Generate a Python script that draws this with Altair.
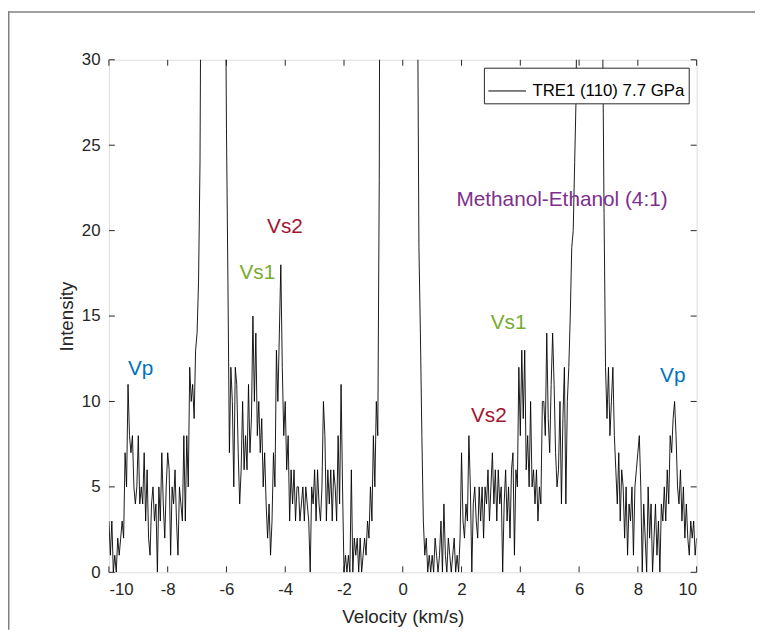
import altair as alt
import pandas as pd

# ---------------- data ----------------
x_start = -10.0
x_step = 0.05
intensity = (
    [3, 1, 3, 0, 1, 0, 2, 1, 2, 3, 2, 7, 5, 11, 8, 7, 8, 5, 4, 5]            # -10.00 .. -9.05
    + [8, 4, 5, 4, 7, 3, 6, 2, 1, 4, 5, 3, 4, 0, 5, 3, 7, 4, 2, 5]          # -9.00 .. -8.05
    + [7, 6, 1, 5, 4, 6, 3, 1, 5, 4, 3, 8, 3, 8, 5, 12, 10, 11, 9, 13]      # -8.00 .. -7.05
    + [14, 17, 24, 42, 65, 95, 130, 165, 195, 215, 225, 220, 200, 170, 135, 100, 75, 58, 48, 40]
    + [26, 17, 7, 12, 10, 5, 12, 11, 7, 4, 6, 10, 6, 8, 6, 11, 7, 9, 15, 10]
    + [14, 8, 10, 7, 9, 5, 7, 4, 2, 4, 1, 3, 7, 5, 13, 10, 14, 18, 12, 8]
    + [10, 6, 8, 3, 6, 4, 6, 3, 5, 5, 3, 4, 5, 3, 5, 4, 3, 0, 5, 4]
    + [6, 3, 6, 4, 3, 5, 10, 8, 3, 6, 4, 6, 3, 6, 5, 3, 8, 4, 11, 5]
    + [0, 1, 0, 1, 0, 6, 0, 2, 1, 2, 0, 2, 0, 1, 2, 1, 3, 2, 5, 3]
    + [8, 5, 10, 8, 23, 60, 120, 200, 300, 450, 600, 750, 900, 1000, 1100, 1150, 1200, 1200, 1150, 1100]
    + [1000, 900, 750, 600, 450, 300, 180, 110, 70, 45, 35, 19, 14, 8, 3, 1, 2, 0, 1, 0]
    + [1, 0, 2, 1, 0, 1, 3, 0, 4, 1, 0, 2, 1, 0, 1, 2, 0, 1, 0, 2]
    + [7, 3, 2, 4, 3, 8, 5, 0, 4, 5, 3, 2, 5, 3, 5, 2, 5, 4, 6, 3]
    + [5, 7, 4, 6, 3, 6, 4, 5, 0, 4, 6, 3, 5, 2, 6, 7, 1, 6, 5, 12]
    + [8, 13, 9, 13, 6, 8, 5, 10, 5, 6, 4, 6, 3, 5, 4, 10, 10, 8, 14, 9]
    + [7, 11, 14, 11, 7, 5, 6, 10, 4, 9, 12, 4, 10, 12, 15, 19, 20, 24, 28, 42]
    + [65, 95, 130, 165, 195, 215, 225, 225, 210, 185, 155, 120, 90, 70, 55, 42, 32, 21, 12, 9]
    + [12, 8, 10, 12, 8, 6, 4, 7, 3, 6, 5, 2, 5, 1, 4, 3, 5, 1, 5, 6]
    + [7, 8, 5, 0, 4, 2, 0, 5, 2, 4, 0, 2, 4, 1, 3, 0, 4, 3, 5, 3]
    + [6, 4, 8, 7, 9, 10, 8, 5, 4, 6, 3, 5, 2, 4, 2, 1, 3, 2, 3, 1, 2]
)
velocity = [round(x_start + i * x_step, 2) for i in range(len(intensity))]
series_name = "TRE1 (110) 7.7 GPa"

x_ticks = [-10, -8, -6, -4, -2, 0, 2, 4, 6, 8, 10]
y_ticks = [0, 5, 10, 15, 20, 25, 30]

ann_text = ["Vp", "Vs1", "Vs2", "Methanol-Ethanol (4:1)", "Vs1", "Vs2", "Vp"]
ann_x = [-8.92, -4.95, -4.01, 5.42, 3.60, 2.93, 9.19]
ann_y = [11.9, 17.5, 20.2, 21.8, 14.6, 9.15, 11.46]
ann_color = ["#0072BD", "#77AC30", "#A2142F", "#7E2F8E", "#77AC30", "#A2142F", "#0072BD"]

# ---------------- chart ----------------
W, H = 594, 518
FONT = "Liberation Sans"
AX = "#262626"

df = pd.DataFrame({"v": velocity, "I": intensity, "series": series_name})
xs = alt.Scale(domain=[-10, 10], nice=False, zero=False)
ys = alt.Scale(domain=[0, 30], nice=False)

line = alt.Chart(df).mark_line(strokeWidth=0.9, clip=True).encode(
    x=alt.X("v:Q", scale=xs,
            axis=alt.Axis(values=x_ticks, title="Velocity (km/s)", tickSize=0, grid=False,
                          domain=False, labelFontSize=17, titleFontSize=19, labelPadding=9,
                          titlePadding=11, labelFont=FONT, titleFont=FONT, labelColor=AX,
                          titleColor=AX, titleFontWeight="normal",
                          labelExpr="'' + datum.value")),
    y=alt.Y("I:Q", scale=ys,
            axis=alt.Axis(values=y_ticks, title="Intensity", tickSize=0, grid=False,
                          domain=False, labelFontSize=17, titleFontSize=19, labelPadding=9,
                          titlePadding=5, labelFont=FONT, titleFont=FONT, labelColor=AX,
                          titleColor=AX, titleFontWeight="normal",
                          labelExpr="'' + datum.value")),
    color=alt.Color("series:N", scale=alt.Scale(domain=[series_name], range=["black"]),
                    legend=alt.Legend(title=None, orient="top-right", offset=8,
                                      symbolType="stroke", symbolSize=1444,
                                      symbolStrokeWidth=1, labelFontSize=17, labelFont=FONT,
                                      labelColor="black", strokeColor=AX, fillColor="white",
                                      padding=4, labelOffset=6)),
)

xt = pd.DataFrame({"t": x_ticks})
yt = pd.DataFrame({"t": y_ticks})
tick_bottom = alt.Chart(xt).mark_rule(color=AX, strokeWidth=1).encode(
    x=alt.X("t:Q", scale=xs), y=alt.value(H), y2=alt.value(H - 6))
tick_top = alt.Chart(xt).mark_rule(color=AX, strokeWidth=1).encode(
    x=alt.X("t:Q", scale=xs), y=alt.value(0), y2=alt.value(6))
tick_left = alt.Chart(yt).mark_rule(color=AX, strokeWidth=1).encode(
    y=alt.Y("t:Q", scale=ys), x=alt.value(0), x2=alt.value(6))
tick_right = alt.Chart(yt).mark_rule(color=AX, strokeWidth=1).encode(
    y=alt.Y("t:Q", scale=ys), x=alt.value(W), x2=alt.value(W - 6))

ann = pd.DataFrame({"x": ann_x, "y": ann_y, "text": ann_text, "color": ann_color})
texts = alt.Chart(ann).mark_text(fontSize=21, font=FONT, align="center",
                                 baseline="middle").encode(
    x=alt.X("x:Q", scale=xs), y=alt.Y("y:Q", scale=ys), text="text:N",
    color=alt.Color("color:N", scale=None))

one = pd.DataFrame({"a": [0]})
frame_left = alt.Chart(one).mark_rect(color="#808080", strokeWidth=0, clip=False).encode(
    x=alt.value(-102), x2=alt.value(-100.5), y=alt.value(-49), y2=alt.value(H + 58))
frame_top = alt.Chart(one).mark_rect(color="#808080", strokeWidth=0, clip=False).encode(
    x=alt.value(-102), x2=alt.value(W + 70), y=alt.value(-49), y2=alt.value(-47.5))

chart = alt.layer(frame_left, frame_top, line, tick_bottom, tick_top, tick_left, tick_right,
                  texts).properties(
    width=W, height=H,
    autosize=alt.AutoSizeParams(type="none"),
    padding={"left": 102, "top": 49, "right": 59, "bottom": 58},
).configure_view(stroke=AX, strokeWidth=1).configure(background="white")

chart.save("out.html", embed_options={"renderer": "svg", "actions": False})
